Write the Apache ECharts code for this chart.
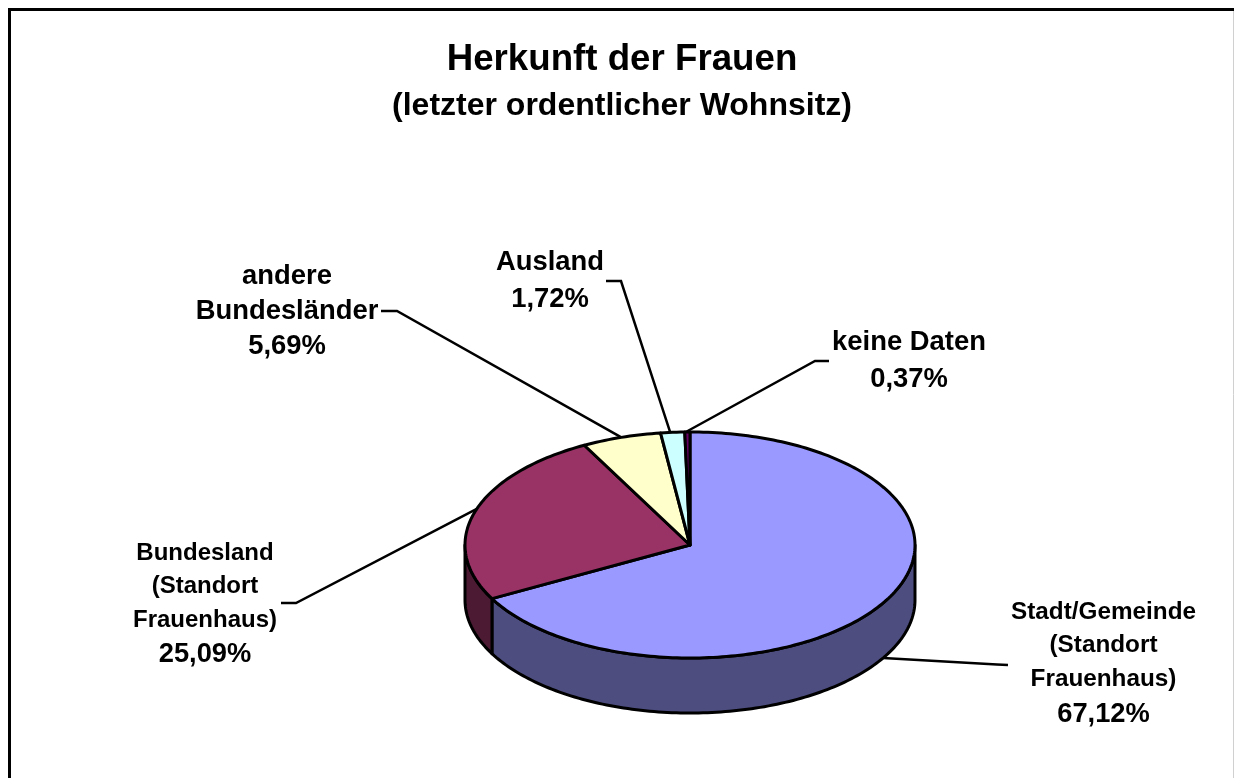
<!DOCTYPE html>
<html><head><meta charset="utf-8">
<style>html,body{margin:0;padding:0;background:#fff}#c{width:1234px;height:778px}</style>
<script src="https://cdn.jsdelivr.net/npm/echarts@6/dist/echarts.min.js"></script>
</head><body><div id="c"></div>
<script>
const categories = ['Stadt/Gemeinde\n(Standort\nFrauenhaus)','Bundesland\n(Standort\nFrauenhaus)','andere\nBundesländer','Ausland','keine Daten'];
const shares = [67.12, 25.09, 5.69, 1.72, 0.37];
const shareLabels = ['67,12%','25,09%','5,69%','1,72%','0,37%'];
const topColors = ['#9999ff','#993366','#ffffcc','#ccffff','#660066'];
const sideColors = ['#4d4d80','#4d1a33','#808066','#668080','#330033'];
const titleText = 'Herkunft der Frauen';
const subtitleText = '(letzter ordentlicher Wohnsitz)';

// layout only
const PIE = {cx:690, cy:545, rx:225, ry:113, depth:55};
const FONT = '"Liberation Sans", Arial, sans-serif';
const labelLayout = [
  {x:1103.5, y:612, lh:33.7, size:24.3, pctSize:27.3, pctDy:1, elbow:[997,664.5], stub:[1008,665], frac:0.5, dy:55},
  {x:205,  y:553, lh:33.5, size:24, pctSize:27.3, pctDy:1, elbow:[296,603], stub:[281,603], frac:0.52, dy:0},
  {x:287,  y:276, lh:35,   size:27.4, pctSize:27.4, pctDy:0, elbow:[397,311], stub:[381,311], frac:0.5, dy:0},
  {x:550,  y:262, lh:37,   size:27.4, pctSize:27.4, pctDy:0, elbow:[621,281], stub:[606,281], frac:0.4, dy:0},
  {x:909,  y:342, lh:37,   size:27.4, pctSize:27.4, pctDy:0, elbow:[815,361], stub:[829,361], frac:0.2, dy:0}
];

function pt(theta, dy){
  return [PIE.cx + PIE.rx*Math.sin(theta), PIE.cy - PIE.ry*Math.cos(theta) + (dy||0)];
}
function arcPts(a0, a1, dy){
  const n = Math.max(2, Math.ceil(Math.abs(a1-a0)/0.02)), out=[];
  for(let i=0;i<=n;i++) out.push(pt(a0+(a1-a0)*i/n, dy));
  return out;
}
const total = shares.reduce((a,b)=>a+b,0);
const edges = [0];
shares.forEach(v=>edges.push(edges[edges.length-1]+v/total*Math.PI*2));

function renderItem(params, api){
  const i = params.dataIndex;
  const a0 = edges[i], a1 = edges[i+1];
  const children = [];
  const line = {stroke:'#000', lineWidth:3, lineJoin:'round'};
  // side wall: only the front half (90deg..270deg) is visible
  const s0 = Math.max(a0, Math.PI/2), s1 = Math.min(a1, Math.PI*1.5);
  if(s1 > s0){
    const top = arcPts(s0,s1,0), bot = arcPts(s1,s0,PIE.depth);
    children.push({type:'polygon', shape:{points:top.concat(bot)},
      style:Object.assign({fill:sideColors[i]},line)});
  }
  const topPts = [[PIE.cx,PIE.cy]].concat(arcPts(a0,a1,0));
  children.push({type:'polygon', shape:{points:topPts},
    style:Object.assign({fill:topColors[i]},line)});
  return {type:'group', children};
}

function labelItem(params){
  const i = params.dataIndex, L = labelLayout[i];
  const anchor = pt(edges[i]+(edges[i+1]-edges[i])*L.frac, L.dy);
  const children = [];
  children.push({type:'polyline', shape:{points:[anchor, L.elbow, L.stub]}, style:{stroke:'#000', lineWidth:2.5, fill:null}, z2:1});
  const lines = categories[i].split('\n');
  lines.forEach((t,k)=>children.push({type:'text', z2:5, style:{text:t, x:L.x, y:L.y+k*L.lh, align:'center', verticalAlign:'middle',
    font:'bold '+L.size+'px '+FONT, fill:'#000'}}));
  children.push({type:'text', z2:5, style:{text:shareLabels[i], x:L.x, y:L.y+lines.length*L.lh+L.pctDy, align:'center', verticalAlign:'middle',
    font:'bold '+L.pctSize+'px '+FONT, fill:'#000'}});
  return {type:'group', children};
}

const chart = echarts.init(document.getElementById('c'), null, {renderer:'canvas', width:1234, height:778});
chart.setOption({
  animation:false,
  backgroundColor:'#fff',
  title:{
    text:titleText, subtext:subtitleText, left:617, top:36, textAlign:'center', itemGap:12,
    textStyle:{fontFamily:FONT, fontWeight:'bold', fontSize:36.7, color:'#000'},
    subtextStyle:{fontFamily:FONT, fontWeight:'bold', fontSize:32, color:'#000'}
  },
  graphic:[
    {type:'rect', silent:true, z:-1, shape:{x:9.5,y:9.5,width:1240,height:800}, style:{fill:'#fff',stroke:'#000',lineWidth:3}},
    {type:'line', silent:true, z:-1, shape:{x1:1233.5,y1:11,x2:1233.5,y2:778}, style:{stroke:'#d0d0d0',lineWidth:1}}
  ],
  series:[
    {type:'custom', coordinateSystem:'none', renderItem:labelItem, z:1, data:shares, silent:true},
    {type:'custom', coordinateSystem:'none', renderItem, z:2, data:shares, silent:true}
  ]
});
</script></body></html>
